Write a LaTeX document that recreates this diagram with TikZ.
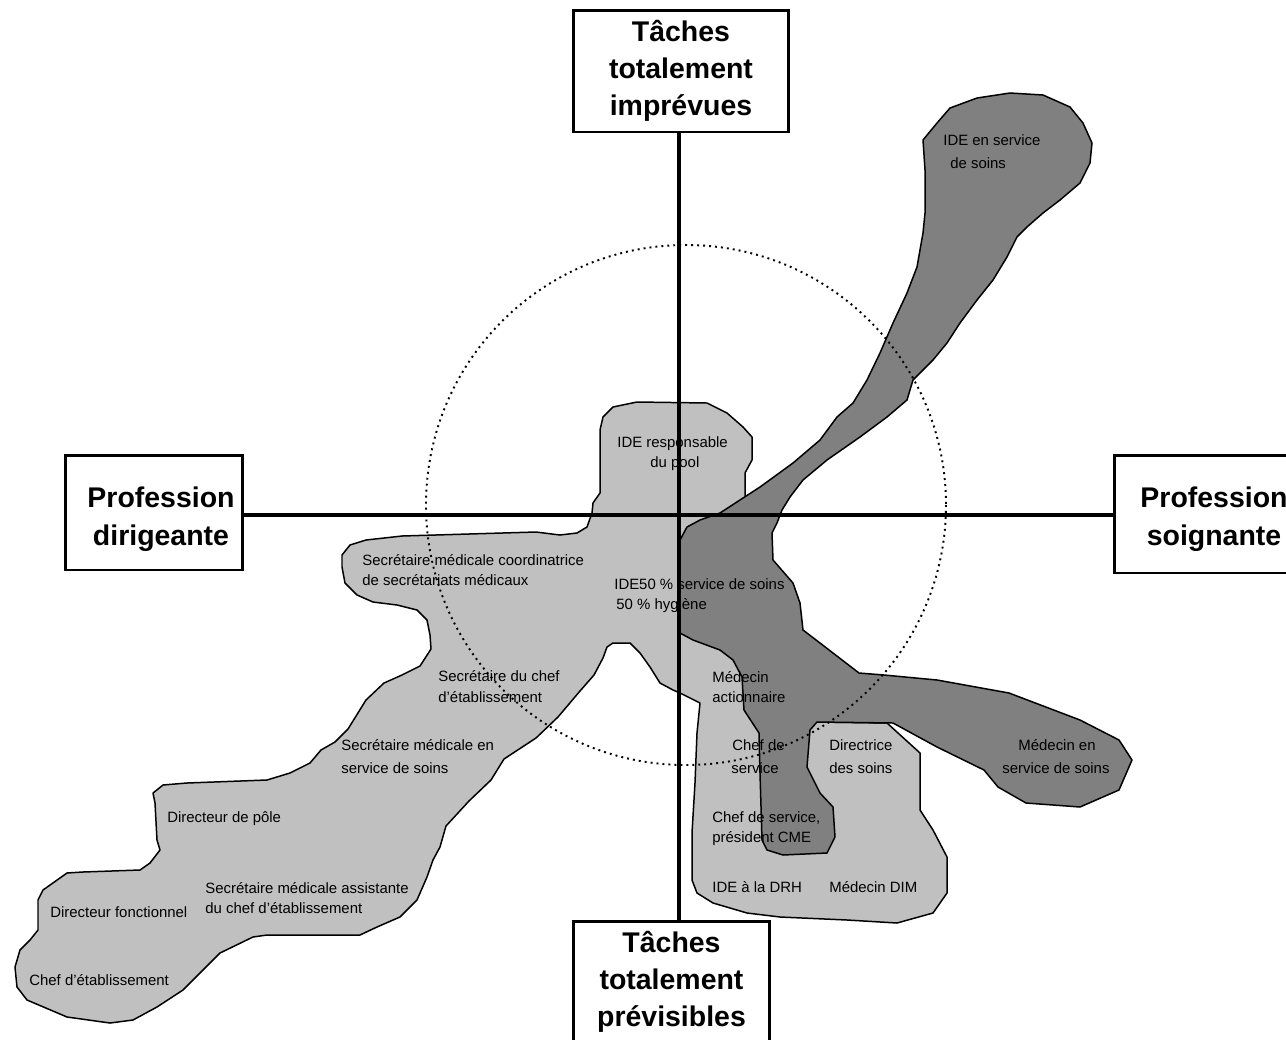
\documentclass[tikz,border=0pt]{standalone}
\usepackage{fontspec}
\setmainfont{Liberation Sans}
\definecolor{lightblob}{HTML}{C0C0C0}
\definecolor{darkblob}{HTML}{808080}
\tikzset{
  blob/.style={draw=black, line width=0.85pt, line join=round},
  axisline/.style={line width=1.8pt},
  headbox/.style={draw, fill=white, line width=1.7pt, align=center, inner sep=0pt,
    font=\bfseries\fontsize{16.2pt}{21pt}\selectfont},
  headtext/.style={align=center, inner sep=0pt,
    font=\bfseries\fontsize{16.2pt}{21.5pt}\selectfont},
  lbl/.style={anchor=base west, inner sep=0pt, font=\fontsize{8.5pt}{10pt}\selectfont},
  dottedcircle/.style={line width=1.1pt, dash pattern=on 1.1pt off 2.3pt},
}
\begin{document}
\begin{tikzpicture}[x=0.02cm,y=-0.02cm]
\useasboundingbox (0,0) rectangle (1286,1039);
\clip (0,0) rectangle (1286,1039);
\fill[white] (0,0) rectangle (1286,1039);

% light grey blob
\path[blob, fill=lightblob] (603,417) -- (613,407) -- (637,402) -- (707,403) -- (727,413) -- (743,427) -- (752,437) -- (752,460) -- (745,473) -- (745,495) -- (750,502) -- (765,545) -- (785,610) -- (800,680) -- (817,722) -- (887,723) -- (920,753) -- (920,810) -- (933,830) -- (947,857) -- (947,893) -- (933,913) -- (897,923) -- (847,920) -- (780,917) -- (747,913) -- (713,903) -- (697,893) -- (692,880) -- (692,833) -- (695,783) -- (697,733) -- (700,703) -- (680,693) -- (673,690) -- (660,683) -- (650,667) -- (640,653) -- (630,643) -- (613,643) -- (607,647) -- (603,658) -- (594,675) -- (580,691) -- (558,717) -- (536,738) -- (504,759) -- (491,780) -- (469,801) -- (446,826) -- (440,847) -- (433,860) -- (427,877) -- (417,900) -- (400,917) -- (377,927) -- (360,935) -- (267,935) -- (253,937) -- (220,953) -- (203,970) -- (183,990) -- (157,1007) -- (133,1020) -- (110,1023) -- (67,1017) -- (27,1000) -- (17,987) -- (15,967) -- (20,950) -- (30,940) -- (38,930) -- (38,900) -- (43,890) -- (67,873) -- (83,872) -- (140,870) -- (150,863) -- (160,850) -- (157,840) -- (155,803) -- (153,793) -- (163,785) -- (187,783) -- (267,780) -- (290,773) -- (310,763) -- (321,750) -- (335,742) -- (348,729) -- (366,700) -- (384,683) -- (402,675) -- (420,666) -- (431,649) -- (430,635) -- (427,620) -- (417,610) -- (397,605) -- (373,602) -- (357,595) -- (345,583) -- (342,567) -- (342,555) -- (350,545) -- (366,540) -- (402,536) -- (536,532) -- (560,535) -- (577,533) -- (587,527) -- (592,513) -- (593,503) -- (600,493) -- (600,430) -- cycle;

% dark grey blob
\path[blob, fill=darkblob] (680,540) -- (687,527) -- (700,520) -- (720,513) -- (740,500) -- (760,487) -- (793,463) -- (820,440) -- (837,417) -- (853,403) -- (867,380) -- (880,353) -- (893,323) -- (907,293) -- (917,267) -- (923,233) -- (925,213) -- (925,170) -- (923,140) -- (937,123) -- (950,108) -- (977,98) -- (1010,93) -- (1043,95) -- (1070,107) -- (1083,123) -- (1092,143) -- (1090,163) -- (1080,183) -- (1060,200) -- (1043,213) -- (1027,227) -- (1017,237) -- (1007,257) -- (993,280) -- (977,300) -- (960,323) -- (947,343) -- (933,360) -- (913,380) -- (907,400) -- (887,417) -- (860,437) -- (827,460) -- (803,480) -- (790,497) -- (782,510) -- (777,523) -- (772,533) -- (773,560) -- (793,583) -- (800,603) -- (803,630) -- (820,643) -- (859,673) -- (884,675) -- (937,680) -- (1009,693) -- (1080,720) -- (1119,740) -- (1132,760) -- (1119,790) -- (1080,807) -- (1026,803) -- (998,787) -- (984,770) -- (937,747) -- (893,723) -- (817,722) -- (810,730) -- (807,767) -- (820,793) -- (833,807) -- (835,837) -- (827,853) -- (783,855) -- (767,850) -- (762,840) -- (760,773) -- (759,733) -- (744,710) -- (742,677) -- (733,660) -- (720,650) -- (693,640) -- (680,633) -- cycle;

% dotted circle
\draw[dottedcircle] (686,505) circle[radius=260];

% boxes
\node[headbox, minimum width=4.32cm, minimum height=2.44cm] (top) at (681,71) {Tâches\\totalement\\imprévues};
\node[headbox, minimum width=3.94cm, minimum height=2.44cm] (bot) at (671.5,982) {Tâches\\totalement\\prévisibles};
\node[headbox, minimum width=3.56cm, minimum height=2.30cm] (left) at (154,512.5) {};
\node[headtext] (lefttext) at (161,519) {Profession\\dirigeante};
\node[headbox, minimum width=4.04cm, minimum height=2.36cm] (right) at (1215,514) {};
\node[headtext] (righttext) at (1214,519) {Profession\\soignante};

% axes
\coordinate (o) at (679,515);
\draw[axisline] (o |- top.south) -- (o |- bot.north);
\draw[axisline] (o -| left.east) -- (o -| right.west);

% labels
\node[lbl] (ide1a) at (943,145) {IDE en service};
\node[lbl] (ide1b) at (950,168) {de soins};
\node[lbl] (pool1) at (617,447) {IDE responsable};
\node[lbl] (pool2) at (650,467) {du pool};
\node[lbl] (coord1) at (362,565) {Secrétaire médicale coordinatrice};
\node[lbl] (coord2) at (362,585) {de secrétariats médicaux};
\node[lbl] (hyg1) at (614,589) {IDE50 \% service de soins};
\node[lbl] (hyg2) at (616,609) {50 \% hygiène};
\node[lbl] (secchef1) at (438,681) {Secrétaire du chef};
\node[lbl] (secchef2) at (438,702) {d’établissement};
\node[lbl] (medact1) at (712,682) {Médecin};
\node[lbl] (medact2) at (712,702) {actionnaire};
\node[lbl] (secsoin1) at (341,750) {Secrétaire médicale en};
\node[lbl] (secsoin2) at (341,773) {service de soins};
\node[lbl] (chefserv1) at (732,750) {Chef de};
\node[lbl] (chefserv2) at (731,773) {service};
\node[lbl] (dirsoin1) at (829,750) {Directrice};
\node[lbl] (dirsoin2) at (829,773) {des soins};
\node[lbl, anchor=base] (medsoin1) at (1057,750) {Médecin en};
\node[lbl, anchor=base] (medsoin2) at (1056,773) {service de soins};
\node[lbl] (dirpole) at (167,822) {Directeur de pôle};
\node[lbl] (cme1) at (712,822) {Chef de service,};
\node[lbl] (cme2) at (712,842) {président CME};
\node[lbl] (drh) at (712,892) {IDE à la DRH};
\node[lbl] (dim) at (829,892) {Médecin DIM};
\node[lbl] (assist1) at (205,893) {Secrétaire médicale assistante};
\node[lbl] (assist2) at (205,913) {du chef d’établissement};
\node[lbl] (dirfonc) at (50,917) {Directeur fonctionnel};
\node[lbl] (chefetab) at (29,985) {Chef d’établissement};
\end{tikzpicture}
\end{document}
